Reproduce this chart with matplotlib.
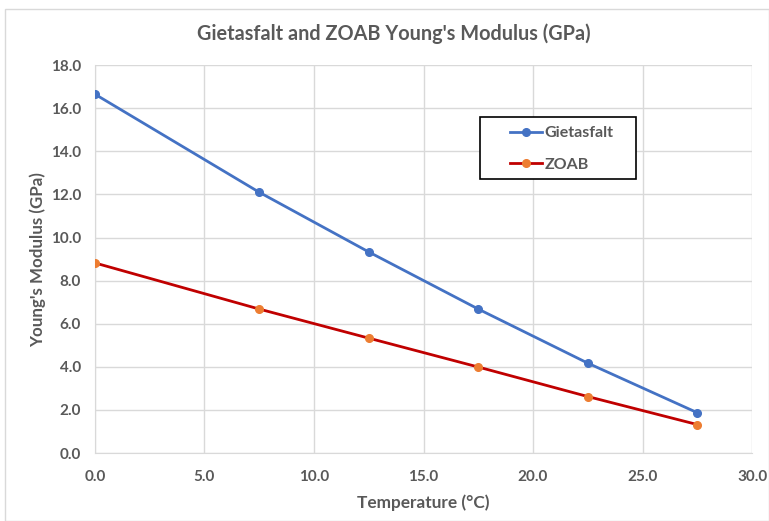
import matplotlib.pyplot as plt
from matplotlib.patches import Rectangle

temps = [0.0, 7.5, 12.5, 17.5, 22.5, 27.5]
gietasfalt = [16.65, 12.1, 9.33, 6.68, 4.17, 1.87]
zoab = [8.82, 6.68, 5.33, 3.99, 2.62, 1.32]

plt.rcParams['font.family'] = ['Lato', 'DejaVu Sans']
grey = '#595959'

fig = plt.figure(figsize=(7.69, 5.21), dpi=100)
fig.patches.append(Rectangle((0.007, 0.0), 0.993, 0.983, transform=fig.transFigure,
                             fill=False, edgecolor='#d9d9d9', linewidth=1))
ax = fig.add_axes([0.1235, 0.1305, 0.8545, 0.7445])

ax.plot(temps, gietasfalt, color='#4472C4', linewidth=2, marker='o', markersize=5.5,
        markerfacecolor='#4472C4', markeredgecolor='#4472C4', label='Gietasfalt', zorder=3)
ax.plot(temps, zoab, color='#C00000', linewidth=2, marker='o', markersize=5.5,
        markerfacecolor='#ED7D31', markeredgecolor='#ED7D31', label='ZOAB', zorder=3)

ax.set_xlim(0, 30)
ax.set_ylim(0, 18)
ax.set_xticks([0, 5, 10, 15, 20, 25, 30])
ax.set_yticks(range(0, 19, 2))
ax.set_xticklabels([f'{v:.1f}' for v in ax.get_xticks()], fontweight='bold', color=grey, fontsize=11)
ax.set_yticklabels([f'{v:.1f}' for v in ax.get_yticks()], fontweight='bold', color=grey, fontsize=11)
ax.grid(True, color='#d9d9d9', linewidth=1)
ax.set_axisbelow(True)
ax.tick_params(axis='x', length=0, pad=12)
ax.tick_params(axis='y', length=0, pad=10)
for s in ['top', 'right']:
    ax.spines[s].set_visible(False)
for s in ['left', 'bottom']:
    ax.spines[s].set_color('#d9d9d9')

fig.text(0.512, 0.935, "Gietasfalt and ZOAB Young's Modulus (GPa)", fontsize=14.3,
         fontweight='bold', color=grey, ha='center', va='center')
ax.set_xlabel('Temperature (°C)', fontsize=12.4, fontweight='bold', color=grey, labelpad=8)
ax.set_ylabel("Young's Modulus (GPa)", fontsize=12.2, fontweight='bold', color=grey, labelpad=3)

# legend box drawn separately, entries placed inside it
ax.add_patch(Rectangle((0.586, 0.706), 0.2374, 0.160, transform=ax.transAxes,
                       fill=True, facecolor='white', edgecolor='black', linewidth=1.2, zorder=4))
leg = ax.legend(loc='upper left', bbox_to_anchor=(0.632, 0.843), frameon=False,
                fontsize=11.5, handlelength=2.0, labelspacing=1.1,
                borderpad=0, handletextpad=0.15, borderaxespad=0)
leg.set_zorder(5)
for t in leg.get_texts():
    t.set_color(grey)
    t.set_fontweight('bold')

fig.savefig('out.png', dpi=100)
